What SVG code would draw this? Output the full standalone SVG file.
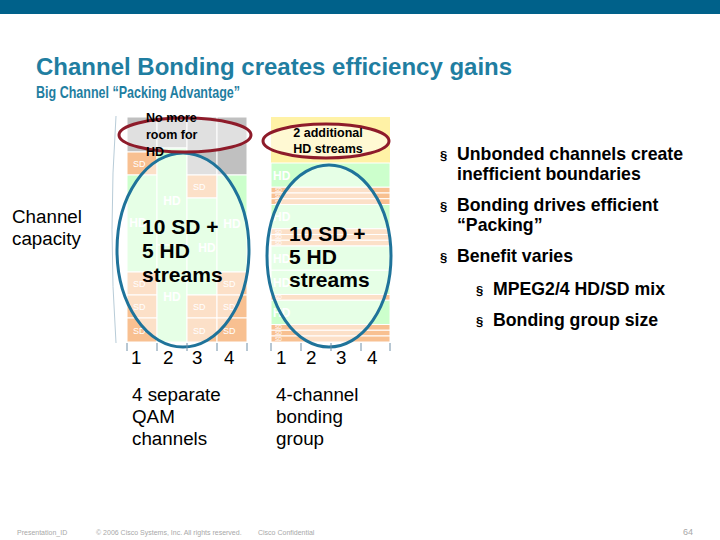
<svg xmlns="http://www.w3.org/2000/svg" width="720" height="540" viewBox="0 0 720 540">
<style>
text{font-family:"Liberation Sans",Arial,sans-serif}
.title{font-size:24px;font-weight:bold;fill:#1f7ea1}
.sub{font-size:17px;font-weight:bold;fill:#1f7ea1}
.gray{fill:#c0c0c0;stroke:#fff;stroke-width:1}
.sd{fill:#f8c091;stroke:#fff;stroke-width:1}
.hd{fill:#ccffcc;stroke:#fff;stroke-width:1}
.yel{fill:#fff2a6}
.lsd{font-size:9px;fill:#fff}
.lhd{font-size:12px;font-weight:bold;fill:#fff}
.tsd{font-size:5px;fill:#fff}
.big{font-size:21px;font-weight:bold;fill:#000}
.oval{font-size:12.5px;font-weight:bold;fill:#000}
.lbl{font-size:18.8px;fill:#000}
.bul{font-size:17.7px;font-weight:bold;fill:#000}
.foot{font-size:7px;fill:#a8a8a8}
.red{fill:#fff;fill-opacity:0.5;stroke:#8e1b2a;stroke-width:3}
.blue{fill:#fff;fill-opacity:0.5;stroke:#1f739a;stroke-width:3}
.tick{stroke:#7090a8;stroke-width:1}
</style>
<rect x="0" y="0" width="720" height="14" fill="#00618a"/>
<text class="title" x="36" y="75">Channel Bonding creates efficiency gains</text>
<text class="sub" x="36" y="98" textLength="204" lengthAdjust="spacingAndGlyphs">Big Channel “Packing Advantage”</text>

<g id="capacity-label">
<text class="lbl" x="12" y="223">Channel</text>
<text class="lbl" x="12" y="245">capacity</text>
<path d="M116,116 Q108,230 116,343" fill="none" stroke="#b8ccd8" stroke-width="1"/>
</g>

<g id="separate-channels">
<rect class="gray" x="127" y="117" width="30" height="35"/>
<rect class="sd" x="127" y="152" width="30" height="23"/>
<rect class="hd" x="127" y="175" width="30" height="97"/>
<rect class="sd" x="127" y="272" width="30" height="23"/>
<rect class="sd" x="127" y="295" width="30" height="23"/>
<rect class="sd" x="127" y="318" width="30" height="24"/>
<rect class="gray" x="157" y="117" width="30" height="31"/>
<rect class="hd" x="157" y="148" width="30" height="97"/>
<rect class="hd" x="157" y="245" width="30" height="97"/>
<rect class="gray" x="187" y="117" width="30" height="58"/>
<rect class="sd" x="187" y="175" width="30" height="23"/>
<rect class="hd" x="187" y="198" width="30" height="97"/>
<rect class="sd" x="187" y="295" width="30" height="23"/>
<rect class="sd" x="187" y="318" width="30" height="24"/>
<rect class="gray" x="217" y="117" width="30" height="58"/>
<rect class="hd" x="217" y="175" width="30" height="97"/>
<rect class="sd" x="217" y="272" width="30" height="23"/>
<rect class="sd" x="217" y="295" width="30" height="23"/>
<rect class="sd" x="217" y="318" width="30" height="24"/>
<text class="lsd" x="133" y="167">SD</text>
<text class="lsd" x="133" y="287">SD</text>
<text class="lsd" x="133" y="310">SD</text>
<text class="lsd" x="133" y="334">SD</text>
<text class="lsd" x="193" y="190">SD</text>
<text class="lsd" x="193" y="310">SD</text>
<text class="lsd" x="193" y="334">SD</text>
<text class="lsd" x="223" y="287">SD</text>
<text class="lsd" x="223" y="310">SD</text>
<text class="lsd" x="223" y="334">SD</text>
<text class="lhd" x="138" y="227" text-anchor="middle">HD</text>
<text class="lhd" x="172" y="205" text-anchor="middle">HD</text>
<text class="lhd" x="172" y="301" text-anchor="middle">HD</text>
<text class="lhd" x="207" y="252" text-anchor="middle">HD</text>
<text class="lhd" x="232" y="228" text-anchor="middle">HD</text>
<ellipse class="blue" cx="183" cy="250" rx="66" ry="97"/>
<ellipse class="red" cx="185" cy="135" rx="66" ry="17"/>
<text class="oval" x="146" y="122">No more</text>
<text class="oval" x="146" y="139">room for</text>
<text class="oval" x="146" y="156">HD</text>
<text class="big" x="142" y="234">10 SD +</text>
<text class="big" x="142" y="258">5 HD</text>
<text class="big" x="142" y="282">streams</text>
</g>

<g id="bonding-group">
<rect class="yel" x="271" y="117" width="119" height="46"/>
<rect class="hd" x="271" y="163" width="119" height="24.25"/>
<rect class="sd" x="271" y="187.25" width="119" height="5.75"/>
<rect class="sd" x="271" y="193" width="119" height="5.75"/>
<rect class="sd" x="271" y="198.75" width="119" height="5.75"/>
<rect class="hd" x="271" y="204.5" width="119" height="24.25"/>
<rect class="sd" x="271" y="228.75" width="119" height="5.75"/>
<rect class="sd" x="271" y="234.5" width="119" height="5.75"/>
<rect class="sd" x="271" y="240.25" width="119" height="5.75"/>
<rect class="hd" x="271" y="246" width="119" height="24.25"/>
<rect class="hd" x="271" y="270.25" width="119" height="24.25"/>
<rect class="sd" x="271" y="294.5" width="119" height="5.75"/>
<rect class="hd" x="271" y="300.25" width="119" height="24.25"/>
<rect class="sd" x="271" y="324.5" width="119" height="5.75"/>
<rect class="sd" x="271" y="330.25" width="119" height="5.75"/>
<rect class="sd" x="271" y="336" width="119" height="6"/>
<text class="lhd" x="273" y="180">HD</text>
<text class="lhd" x="273" y="221">HD</text>
<text class="lhd" x="273" y="263">HD</text>
<text class="lhd" x="273" y="287">HD</text>
<text class="lhd" x="273" y="317">HD</text>
<text class="tsd" x="275" y="192">SD</text>
<text class="tsd" x="275" y="198">SD</text>
<text class="tsd" x="275" y="203.5">SD</text>
<text class="tsd" x="275" y="233.5">SD</text>
<text class="tsd" x="275" y="239">SD</text>
<text class="tsd" x="275" y="245">SD</text>
<text class="tsd" x="275" y="299">SD</text>
<text class="tsd" x="275" y="329">SD</text>
<text class="tsd" x="275" y="335">SD</text>
<text class="tsd" x="275" y="341">SD</text>
<ellipse class="blue" cx="329" cy="256" rx="62" ry="91"/>
<ellipse class="red" cx="326" cy="141" rx="63" ry="17"/>
<text class="oval" x="328" y="137" text-anchor="middle">2 additional</text>
<text class="oval" x="328" y="153" text-anchor="middle">HD streams</text>
<text class="big" x="289" y="241">10 SD +</text>
<text class="big" x="289" y="264">5 HD</text>
<text class="big" x="289" y="287">streams</text>
</g>

<g id="axes">
<line class="tick" x1="127" y1="343" x2="127" y2="351"/>
<line class="tick" x1="157" y1="343" x2="157" y2="351"/>
<line class="tick" x1="187" y1="343" x2="187" y2="351"/>
<line class="tick" x1="217" y1="343" x2="217" y2="351"/>
<line class="tick" x1="247" y1="343" x2="247" y2="351"/>
<line class="tick" x1="271" y1="343" x2="271" y2="351"/>
<line class="tick" x1="301" y1="343" x2="301" y2="351"/>
<line class="tick" x1="331" y1="343" x2="331" y2="351"/>
<line class="tick" x1="361" y1="343" x2="361" y2="351"/>
<line class="tick" x1="390" y1="343" x2="390" y2="351"/>
<text class="lbl" x="131" y="364">1</text>
<text class="lbl" x="163" y="364">2</text>
<text class="lbl" x="192" y="364">3</text>
<text class="lbl" x="224" y="364">4</text>
<text class="lbl" x="276" y="364">1</text>
<text class="lbl" x="306" y="364">2</text>
<text class="lbl" x="336" y="364">3</text>
<text class="lbl" x="367" y="364">4</text>
</g>

<g id="captions">
<text class="lbl" x="132" y="401">4 separate</text>
<text class="lbl" x="132" y="423">QAM</text>
<text class="lbl" x="132" y="445">channels</text>
<text class="lbl" x="276" y="401">4-channel</text>
<text class="lbl" x="276" y="423">bonding</text>
<text class="lbl" x="276" y="445">group</text>
</g>

<g id="bullets">
<text class="bul" x="440" y="160" style="font-size:13px">§</text>
<text class="bul" x="457" y="160">Unbonded channels create</text>
<text class="bul" x="457" y="180">inefficient boundaries</text>
<text class="bul" x="440" y="211" style="font-size:13px">§</text>
<text class="bul" x="457" y="211">Bonding drives efficient</text>
<text class="bul" x="457" y="231">“Packing”</text>
<text class="bul" x="440" y="262" style="font-size:13px">§</text>
<text class="bul" x="457" y="262">Benefit varies</text>
<text class="bul" x="476" y="295" style="font-size:13px">§</text>
<text class="bul" x="493" y="295">MPEG2/4 HD/SD mix</text>
<text class="bul" x="476" y="326" style="font-size:13px">§</text>
<text class="bul" x="493" y="326">Bonding group size</text>
</g>

<g id="footer">
<text class="foot" x="17" y="535">Presentation_ID</text>
<text class="foot" x="96" y="535">© 2006 Cisco Systems, Inc. All rights reserved.</text>
<text class="foot" x="258" y="535">Cisco Confidential</text>
<text class="foot" x="693" y="535" text-anchor="end" style="font-size:9px">64</text>
</g>
</svg>
